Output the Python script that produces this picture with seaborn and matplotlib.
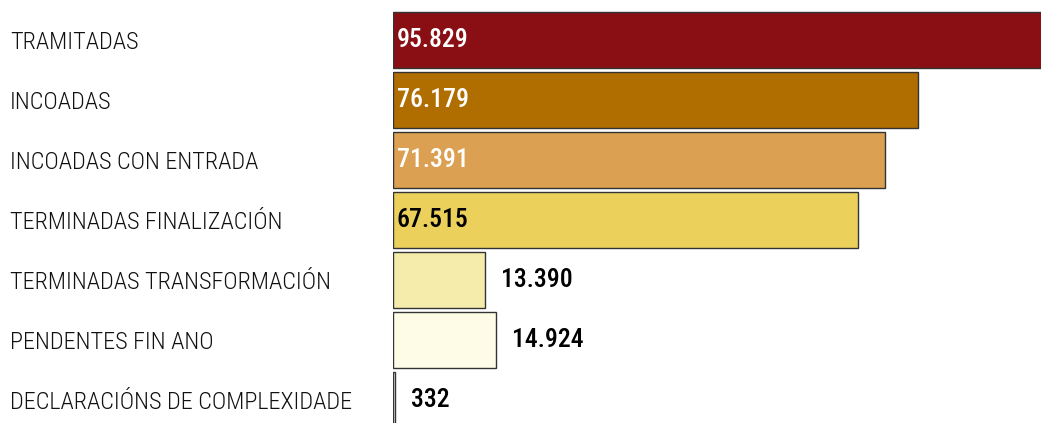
import numpy as np
import pandas as pd
import matplotlib
matplotlib.use('Agg')
import matplotlib.pyplot as plt
import seaborn as sns

categories = ['TRAMITADAS', 'INCOADAS', 'INCOADAS CON ENTRADA', 'TERMINADAS FINALIZACIÓN',
              'TERMINADAS TRANSFORMACIÓN', 'PENDENTES FIN ANO', 'DECLARACIÓNS DE COMPLEXIDADE']
values = [95829, 76179, 71391, 67515, 13390, 14924, 332]
value_labels = ['95.829', '76.179', '71.391', '67.515', '13.390', '14.924', '332']
colors = ['#8A0F14', '#B06E00', '#DBA052', '#ECD05C', '#F5EBAB', '#FEFCE6', '#FFFFFF']
text_colors = ['white', 'white', 'white', 'black', 'black', 'black', 'black']

sns.set_style('white')
plt.rcParams['font.family'] = ['Roboto Condensed', 'DejaVu Sans']

df = pd.DataFrame({'cat': categories, 'val': values})

fig = plt.figure(figsize=(10.41, 4.23), dpi=100)
ax = fig.add_axes([393 / 1041, 0, 1 - 393 / 1041, 1])

sns.barplot(data=df, x='val', y='cat', hue='cat', palette=colors, legend=False, saturation=1,
            orient='h', width=0.92, edgecolor='#333333', linewidth=1.0, ax=ax)

ax.set_xlim(0, 94050)
ax.set_ylim(6.383, -0.667)
ax.set_xlabel('')
ax.set_ylabel('')
ax.set_xticks([])
sns.despine(ax=ax, left=True, bottom=True)

# category names on the far left
ax.tick_params(axis='y', length=0, pad=383 * 0.72, labelsize=17.5)
for lbl in ax.get_yticklabels():
    lbl.set_ha('left')
    lbl.set_color('#111111')
    lbl.set_fontweight(300)

# value labels: inside for long bars, outside for short ones
for i, (v, t, c) in enumerate(zip(values, value_labels, text_colors)):
    if v > 50000:
        ax.text(550, i, t, color=c, ha='left', va='center', fontsize=18.5, fontweight=500)
    else:
        ax.text(v + 2300, i, t, color=c, ha='left', va='center', fontsize=18.5, fontweight=500)

fig.savefig('out.png', dpi=100)
